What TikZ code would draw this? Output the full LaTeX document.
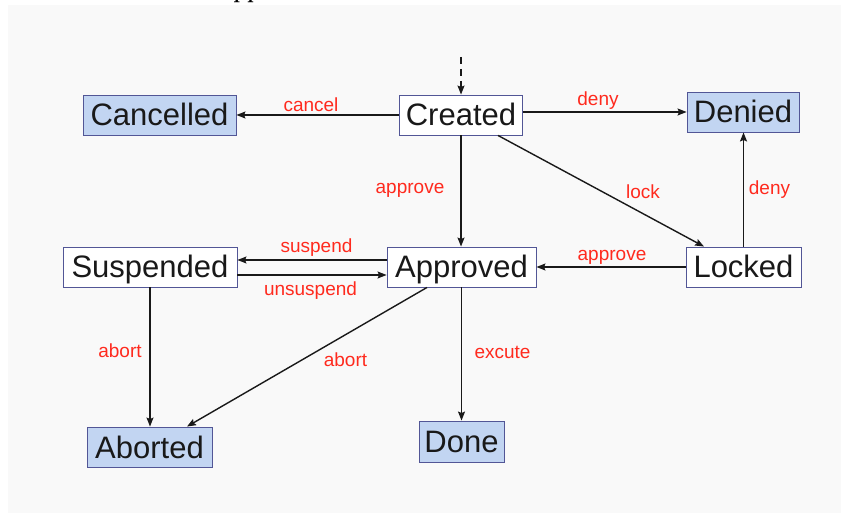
\documentclass[tikz,border=0pt]{standalone}
\usepackage{fontspec}
\setsansfont{Liberation Sans}
\usetikzlibrary{arrows.meta}
\definecolor{panel}{RGB}{249,249,249}
\definecolor{boxline}{RGB}{82,86,150}
\definecolor{boxfill}{RGB}{194,213,242}
\definecolor{lblred}{RGB}{255,42,30}
\tikzset{
  state/.style={draw=boxline, line width=0.9pt, fill=white, inner sep=0pt,
    minimum height=40pt, text height=22pt, text depth=0pt,
    font=\sffamily\fontsize{31}{31}\selectfont, text=black!90},
  final/.style={state, fill=boxfill},
  edge/.style={line width=1.4pt, black!90, -{Stealth[length=9pt,width=7pt,inset=1.5pt]}},
  lbl/.style={font=\sffamily\fontsize{19}{19}\selectfont, text=lblred, inner sep=0pt}
}
\begin{document}
\begin{tikzpicture}[x=1pt,y=-1pt]
\useasboundingbox (0,0) rectangle (841,513);
\fill[white] (0,0) rectangle (841,513);
\fill[panel] (8,5) rectangle (841,513);
\node[anchor=base, font=\bfseries\fontsize{22}{22}\selectfont] (title) at (247,-1.5) {pp};

\node[state, minimum width=123pt] (created) at (461,115) {Created};
\node[final, minimum width=153pt] (cancelled) at (159.5,115) {Cancelled};
\node[final, minimum width=112pt] (denied) at (743,112) {Denied};
\node[state, minimum width=115pt] (locked) at (743.5,267) {Locked};
\node[state, minimum width=149pt] (approved) at (461.5,267) {Approved};
\node[state, minimum width=174pt] (suspended) at (150,267) {Suspended};
\node[final, minimum width=125pt] (aborted) at (149.5,447) {Aborted};
\node[final, minimum width=85pt, minimum height=41pt] (done) at (461.5,441.5) {Done};

\coordinate (init) at (461,57);
\draw[edge, dash pattern=on 7pt off 5pt] (init) -- (created.north);

\draw[edge] (created.west) -- (cancelled.east);
\draw[edge] (created.east |- denied.west) -- (denied.west);
\draw[edge] ([xshift=37pt]created.south) -- ([xshift=-39.5pt]locked.north);
\draw[edge] (locked.north) -- (locked.north |- denied.south);
\draw[edge] (locked.west) -- (approved.east);
\draw[edge] (created.south) -- (created.south |- approved.north);
\draw[edge] ([yshift=7pt]approved.west) -- ([yshift=7pt]suspended.east);
\draw[edge] ([yshift=-8pt]suspended.east) -- ([yshift=-8pt]approved.west);
\draw[edge] (suspended.south) -- (suspended.south |- aborted.north);
\draw[edge] ([xshift=-34.5pt]approved.south) -- ([xshift=37.5pt]aborted.north);
\draw[edge] (approved.south) -- (approved.south |- done.north);

\node[lbl] (lcancel) at (311,105) {cancel};
\node[lbl] (ldeny1) at (598,101) {deny};
\node[lbl] (llock) at (643,192) {lock};
\node[lbl] (ldeny2) at (769.5,190) {deny};
\node[lbl] (lapprove1) at (410,190) {approve};
\node[lbl] (lapprove2) at (612,257) {approve};
\node[lbl] (lsuspend) at (316.5,248) {suspend};
\node[lbl] (lunsuspend) at (310.5,291) {unsuspend};
\node[lbl] (labort1) at (120,351) {abort};
\node[lbl] (labort2) at (345.5,360) {abort};
\node[lbl] (lexcute) at (502.5,352) {excute};
\end{tikzpicture}
\end{document}
